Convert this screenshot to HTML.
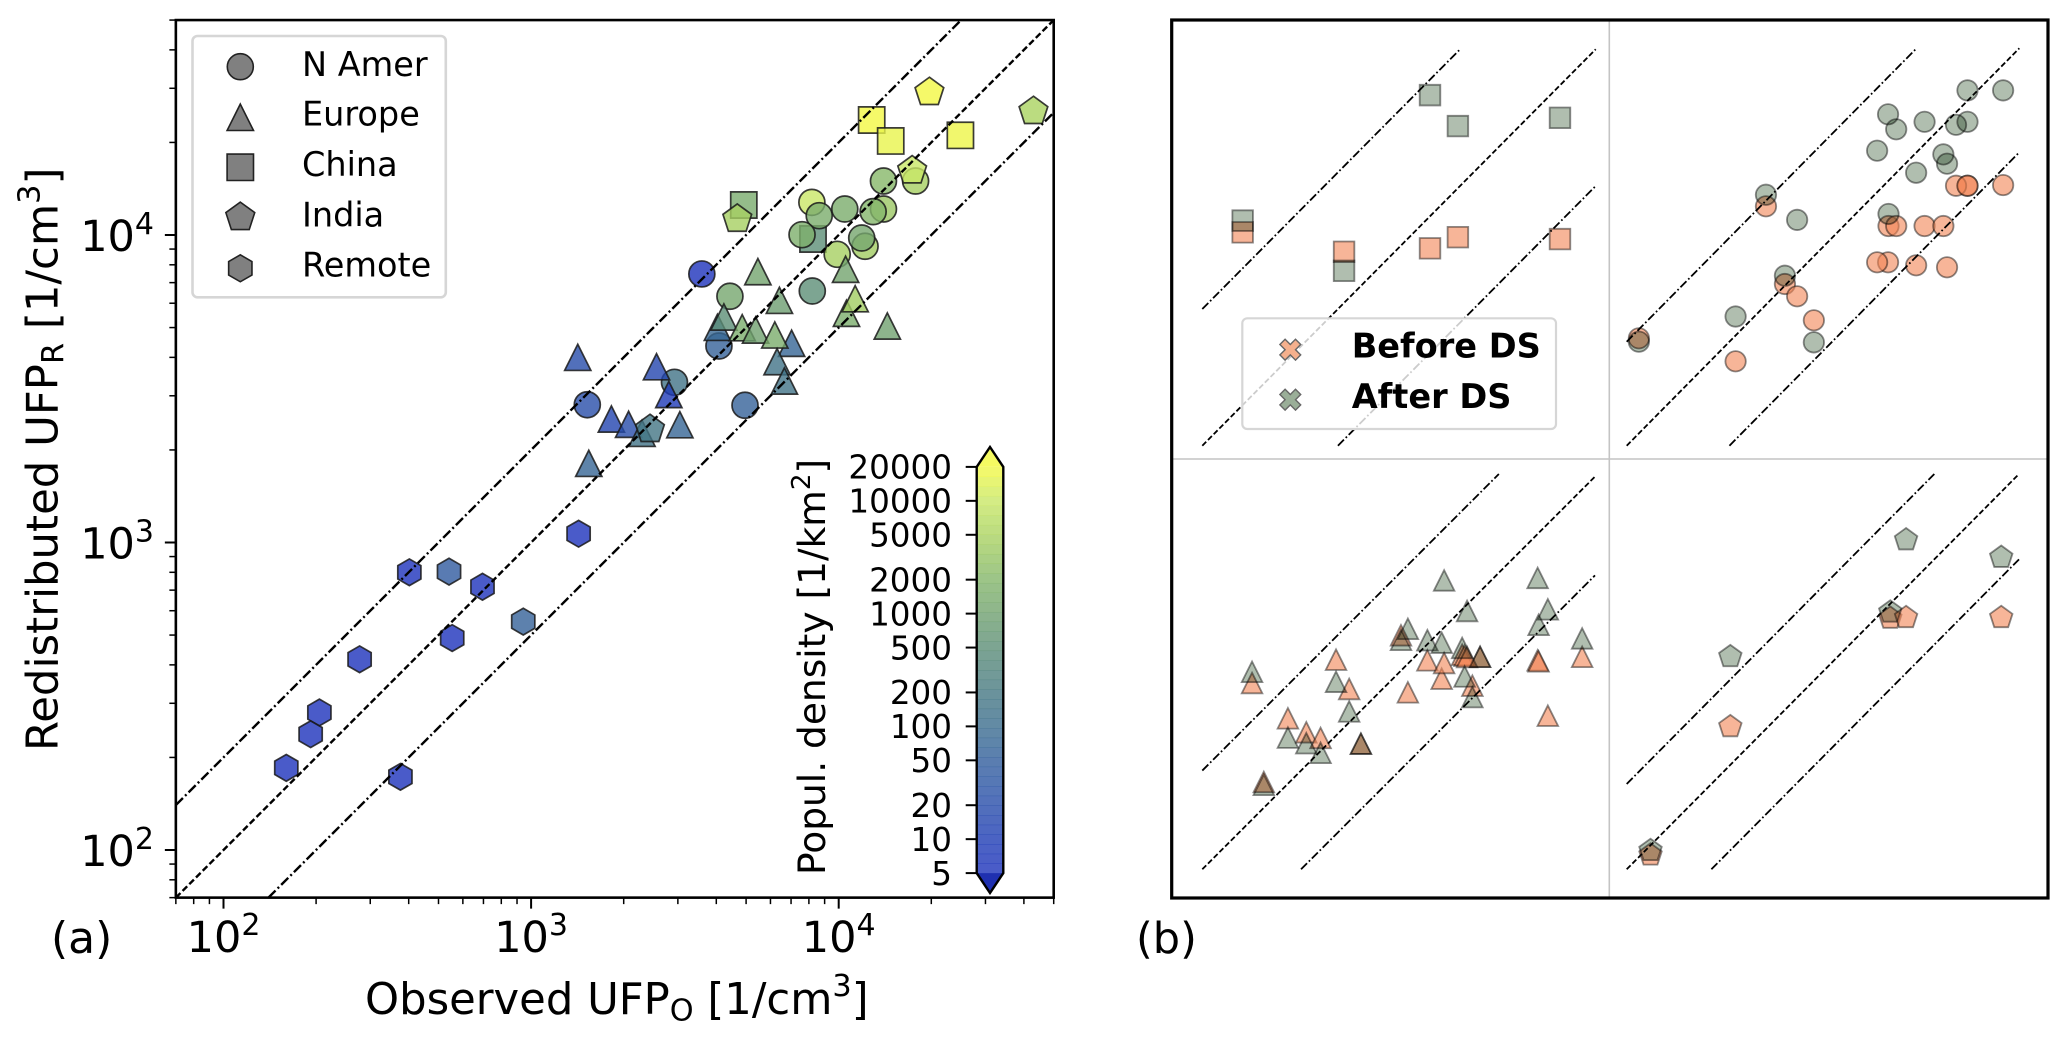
<!DOCTYPE html>
<html lang="en">
<head>
<meta charset="utf-8">
<title>Observed vs redistributed UFP</title>
<style>
html,body{margin:0;padding:0;background:#fff;}
svg{display:block;font-family:"DejaVu Sans","Liberation Sans",sans-serif;}
</style>
</head>
<body>
<svg id="chart" xmlns="http://www.w3.org/2000/svg" width="2067" height="1040" viewBox="0 0 2067 1040">
  <rect x="0" y="0" width="2067" height="1040" fill="#fff"/>
  <g id="panelA"></g>
  <g id="panelB"></g>

  <text x="51" y="953" font-size="44">(a)</text>
  <text x="1136" y="953" font-size="43">(b)</text>

  <text x="365" y="1014" font-size="43.3">Observed UFP<tspan dy="6.3" font-size="30.3">O</tspan><tspan dy="-6.3"> [1/cm</tspan><tspan dy="-18" font-size="30.3">3</tspan><tspan dy="18">]</tspan></text>
  <text transform="translate(57.4,751) rotate(-90)" font-size="43.4">Redistributed UFP<tspan dy="6.3" font-size="30.4">R</tspan><tspan dy="-6.3"> [1/cm</tspan><tspan dy="-18" font-size="30.4">3</tspan><tspan dy="18">]</tspan></text>
  <text transform="translate(825,875) rotate(-90)" font-size="37.5">Popul. density [1/km<tspan dy="-15" font-size="26.2">2</tspan><tspan dy="15">]</tspan></text>

  <g id="legendA">
    <rect x="192.5" y="36" width="253.3" height="261.3" rx="5" fill="#fff" stroke="#d6d6d6" stroke-width="2.6"/>
    <text x="302" y="76" font-size="33.5">N Amer</text>
    <text x="302" y="125.5" font-size="33.5">Europe</text>
    <text x="302" y="176" font-size="33.5">China</text>
    <text x="302" y="226.7" font-size="33.5">India</text>
    <text x="302" y="276.7" font-size="33.5">Remote</text>
  </g>
</svg>

<script>
// ---------- Panel (a) data: observed, redistributed, population density ----------
const amerObserved      = [1523, 2925, 3590, 4080, 4430, 4959, 8206, 8181, 8643, 10466, 7600, 9888, 12180, 11880, 13980, 12940, 13980, 17780];
const amerRedistributed = [2806, 3319, 7470, 4355, 6320, 2794, 6575, 12770, 11557, 12150, 10023, 8653, 9190, 9777, 12150, 11910, 14980, 14980];
const amerDensity       = [22, 150, 5, 60, 1200, 60, 500, 10000, 1500, 1500, 1600, 4500, 4000, 1200, 3500, 2000, 2200, 4500];

const europeObserved      = [1418, 1540, 1824, 2075, 2294, 2557, 2804, 3045, 4034, 4234, 4856, 5368, 5461, 7029, 6198, 6305, 6416, 6659, 10530, 10600, 11310, 14390];
const europeRedistributed = [4001, 1809, 2521, 2423, 2265, 3730, 3029, 2416, 5009, 5411, 4994, 4909, 7600, 4445, 4730, 3873, 6131, 3351, 7735, 5565, 6205, 5058];
const europeDensity       = [20, 70, 14, 20, 150, 15, 8, 70, 80, 500, 1500, 1000, 1100, 70, 1500, 150, 900, 150, 1100, 1500, 4000, 1000];

const chinaObserved      = [4914, 8250, 12800, 14760, 24870];
const chinaRedistributed = [12520, 9705, 23660, 20220, 21090];
const chinaDensity       = [1400, 500, 20000, 17000, 18000];

const indiaObserved      = [2435, 4680, 17330, 19720, 42970];
const indiaRedistributed = [2334, 11270, 16190, 29110, 25250];
const indiaDensity       = [170, 4500, 10000, 20000, 5000];

const remoteObserved      = [402, 541, 695, 554, 943, 1427, 277, 205, 192, 160, 376];
const remoteRedistributed = [800, 804, 718, 489, 553, 1068, 417, 280, 238, 185, 173];
const remoteDensity       = [5, 40, 5, 5, 60, 5, 5, 5, 5, 5, 5];

// ---------- Panel (b) data: redistributed before downscaling ("After" uses the arrays above) ----------
const amerBefore   = [2870, 2462, 6917, 4122, 3797, 3236, 6066, 4763, 6066, 6066, 4763, 4668, 4607, 6066, 7934, 7934, 7934, 7970];
const europeBefore = [3698, 1846, 2886, 2617, 2514, 4355, 3546, 2416, 5170, 3464, 4337, 3812, 4256, 4445, 4511, 4479, 4439, 3629, 4337, 4306, 2939, 4445];
const chinaBefore  = [11800, 10690, 10880, 11510, 11400];
const indiaBefore  = [2250, 6380, 15400, 15480, 15480];

// ---------- Axis tick values ----------
const majorExponents = [2, 3, 4];
const minorMultiples = [2, 3, 4, 5, 6, 7, 8, 9];
const minorDecades   = [10, 100, 1000, 10000];
const colorbarTicks  = [5, 10, 20, 50, 100, 200, 500, 1000, 2000, 5000, 10000, 20000];
const lineRatios     = [2, 1, 0.5];

// ---------- Colour map ----------
const cmapLevels = [5, 10, 20, 50, 100, 200, 500, 1000, 2000, 5000, 10000, 20000];
const cmapRed    = [29, 30, 39, 49, 59, 70, 92, 112, 131, 170, 201, 243];
const cmapGreen  = [50, 60, 76, 94, 109, 120, 142, 161, 181, 211, 231, 248];
const cmapBlue   = [187, 180, 170, 156, 142, 130, 119, 111, 106, 96, 102, 68];

const NS = 'http://www.w3.org/2000/svg';
const root = document.getElementById('chart');
const panelA = document.getElementById('panelA');
const panelB = document.getElementById('panelB');
const legendA = document.getElementById('legendA');

function make(parent, tag, attrs) {
  const e = document.createElementNS(NS, tag);
  for (const k in attrs) e.setAttribute(k, attrs[k]);
  parent.appendChild(e);
  return e;
}

function densityColor(d) {
  const v = Math.max(cmapLevels[0], Math.min(cmapLevels[cmapLevels.length - 1], d));
  let i = 0;
  while (i < cmapLevels.length - 2 && v > cmapLevels[i + 1]) i++;
  const t = (Math.log10(v) - Math.log10(cmapLevels[i])) / (Math.log10(cmapLevels[i + 1]) - Math.log10(cmapLevels[i]));
  const c = a => Math.round(a[i] + (a[i + 1] - a[i]) * t);
  return 'rgb(' + c(cmapRed) + ',' + c(cmapGreen) + ',' + c(cmapBlue) + ')';
}

function polyPoints(kind, cx, cy, r) {
  let pts = [];
  if (kind === 'triangle') pts = [[0, -r], [r, r], [-r, r]];
  if (kind === 'square') pts = [[-r, -r], [r, -r], [r, r], [-r, r]];
  if (kind === 'pentagon') {
    const R = r * 1.15;
    for (let i = 0; i < 5; i++) { const a = -Math.PI / 2 + i * 2 * Math.PI / 5; pts.push([R * Math.cos(a), R * Math.sin(a)]); }
  }
  if (kind === 'hexagon') {
    const R = r * 1.02;
    for (let i = 0; i < 6; i++) { const a = -Math.PI / 2 + i * Math.PI / 3; pts.push([R * Math.cos(a), R * Math.sin(a)]); }
  }
  if (kind === 'cross') {
    const u = r / 2;
    pts = [[-u, -2 * u], [0, -u], [u, -2 * u], [2 * u, -u], [u, 0], [2 * u, u], [u, 2 * u], [0, u], [-u, 2 * u], [-2 * u, u], [-u, 0], [-2 * u, -u]];
  }
  return pts.map(p => (cx + p[0]).toFixed(2) + ',' + (cy + p[1]).toFixed(2)).join(' ');
}

function marker(parent, kind, cx, cy, r, style) {
  if (kind === 'circle') return make(parent, 'circle', Object.assign({ cx: cx, cy: cy, r: r }, style));
  return make(parent, 'polygon', Object.assign({ points: polyPoints(kind, cx, cy, r) }, style));
}

// ---------- Panel (a) axis functions ----------
const xMinA = 70, xMaxA = 50000, yMinA = 70, yMaxA = 50000;
const xA = v => 223.5 + 307.6 * (Math.log10(v) - 2);
const yA = v => 850 - 307.5 * (Math.log10(v) - 2);

// scatter points (China, N Amer, Europe, India, Remote draw order)
const scatterStyle = d => ({ fill: densityColor(d), 'fill-opacity': 0.8, stroke: '#1a1a1a', 'stroke-opacity': 0.85, 'stroke-width': 1.7 });
const seriesA = [
  ['square', chinaObserved, chinaRedistributed, chinaDensity],
  ['circle', amerObserved, amerRedistributed, amerDensity],
  ['triangle', europeObserved, europeRedistributed, europeDensity],
  ['pentagon', indiaObserved, indiaRedistributed, indiaDensity],
  ['hexagon', remoteObserved, remoteRedistributed, remoteDensity]
];
seriesA.forEach(function (s) {
  s[1].forEach(function (ov, i) {
    const el = marker(panelA, s[0], xA(ov), yA(s[2][i]), s[0] === 'circle' ? 13 : 13.1, scatterStyle(s[3][i]));
    
    
  });
});

// reference lines y = r * x
function lineDash(ratio, scale) {
  return ratio === 1 ? (6.5 * scale) + ' ' + (3 * scale) : (10 * scale) + ' ' + (3 * scale) + ' ' + (2 * scale) + ' ' + (3 * scale);
}
lineRatios.forEach(function (ratio) {
  const x0 = Math.max(xMinA, yMinA / ratio);
  const x1 = Math.min(xMaxA, yMaxA / ratio);
  const el = make(panelA, 'line', { x1: xA(x0), y1: yA(x0 * ratio), x2: xA(x1), y2: yA(x1 * ratio), stroke: '#000', 'stroke-width': 2.4, 'stroke-dasharray': lineDash(ratio, 1) });
  
  
});

// frame
const frameA = make(panelA, 'rect', { x: xA(xMinA), y: yA(yMaxA), width: xA(xMaxA) - xA(xMinA), height: yA(yMinA) - yA(yMaxA), fill: 'none', stroke: '#000', 'stroke-width': 2.6 });



// minor ticks
minorDecades.forEach(function (dec) {
  minorMultiples.forEach(function (m) {
    const v = m * dec;
    if (v >= xMinA && v <= xMaxA) {
      const t = make(panelA, 'line', { x1: xA(v), x2: xA(v), y1: yA(yMinA), y2: yA(yMinA) + 6.5, stroke: '#000', 'stroke-width': 1.5 });
      
      
    }
    if (v >= yMinA && v <= yMaxA) {
      const t2 = make(panelA, 'line', { y1: yA(v), y2: yA(v), x1: xA(xMinA), x2: xA(xMinA) - 6.5, stroke: '#000', 'stroke-width': 1.5 });
      
      
    }
  });
});

// major ticks + labels
function powerLabel(parent, x, y, anchor, exp) {
  const t = make(parent, 'text', { x: x, y: y, 'text-anchor': anchor, 'font-size': 43 });
  const a = make(t, 'tspan', {});
  a.textContent = '10';
  const b = make(t, 'tspan', { dy: -17, 'font-size': 30 });
  b.textContent = String(exp);
  return t;
}
majorExponents.forEach(function (e) {
  const v = Math.pow(10, e);
  const tx = make(panelA, 'line', { x1: xA(v), x2: xA(v), y1: yA(yMinA), y2: yA(yMinA) + 11, stroke: '#000', 'stroke-width': 2 });
  
  
  const ty = make(panelA, 'line', { y1: yA(v), y2: yA(v), x1: xA(xMinA), x2: xA(xMinA) - 11, stroke: '#000', 'stroke-width': 2 });
  
  
  const lx = powerLabel(panelA, xA(v), 952, 'middle', e);
  
  
  const ly = powerLabel(panelA, 154, yA(v) + 16, 'end', e);
  
  
});

// region legend markers
const legendKinds = ['circle', 'triangle', 'square', 'pentagon', 'hexagon'];
const legendRows = [66.7, 117.3, 167.3, 217.3, 268.3];
legendKinds.forEach(function (k, i) {
  const el = marker(legendA, k, 240.3, legendRows[i], k === 'circle' ? 13 : 13.2, { fill: '#808080', stroke: '#222', 'stroke-width': 1.6 });
  
  
});

// ---------- Colorbar ----------
const cbLeft = 976.7, cbRight = 1003.3, cbTop = 466.9, cbBottom = 873.1;
const yCb = d => cbBottom - (cbBottom - cbTop) * (Math.log10(d) - Math.log10(5)) / (Math.log10(20000) - Math.log10(5));
const cbGroup = make(root, 'g', {});


const cbSteps = 42;
for (let i = 0; i < cbSteps; i++) {
  const d0 = 5 * Math.pow(4000, i / cbSteps);
  const d1 = 5 * Math.pow(4000, (i + 1) / cbSteps);
  const band = make(cbGroup, 'rect', { x: cbLeft, width: cbRight - cbLeft, y: yCb(d1), height: yCb(d0) - yCb(d1) + 0.4, fill: densityColor(Math.sqrt(d0 * d1)), 'fill-opacity': 0.8 });
  
  
}
const tipTop = make(cbGroup, 'polygon', { points: cbLeft + ',' + cbTop + ' 990,447 ' + cbRight + ',' + cbTop, fill: '#f5fa62' });


const tipBottom = make(cbGroup, 'polygon', { points: cbLeft + ',' + cbBottom + ' 990,893 ' + cbRight + ',' + cbBottom, fill: '#1f30b0' });


const cbOutline = make(cbGroup, 'polygon', { points: cbLeft + ',' + cbTop + ' 990,447 ' + cbRight + ',' + cbTop + ' ' + cbRight + ',' + cbBottom + ' 990,893 ' + cbLeft + ',' + cbBottom, fill: 'none', stroke: '#000', 'stroke-width': 2.4 });


colorbarTicks.forEach(function (d) {
  const tk = make(cbGroup, 'line', { x1: cbLeft - 11, x2: cbLeft, y1: yCb(d), y2: yCb(d), stroke: '#000', 'stroke-width': 2 });
  
  
  const lb = make(cbGroup, 'text', { x: 952, y: yCb(d) + 11.8, 'text-anchor': 'end', 'font-size': 32.6 });
  lb.textContent = String(d);
  
  
});

// ---------- Panel (b) ----------
const beforeFill = 'rgb(242,132,83)';
const afterFill = 'rgb(123,147,122)';
const quadrants = [
  { kind: 'square',   x0: 1202.3, y0: 445.7, w: 393.4, h: 396.4, xMin: 3998, yMin: 3998, xMax: 29850, yMax: 29850, obs: chinaObserved,  before: chinaBefore,  after: chinaRedistributed },
  { kind: 'circle',   x0: 1626.7, y0: 445.7, w: 392.6, h: 397.4, xMin: 1403, yMin: 1403, xMax: 19830, yMax: 19830, obs: amerObserved,   before: amerBefore,   after: amerRedistributed },
  { kind: 'triangle', x0: 1202.3, y0: 869.3, w: 392.7, h: 395.3, xMin: 1000, yMin: 1000, xMax: 15750, yMax: 16040, obs: europeObserved, before: europeBefore, after: europeRedistributed },
  { kind: 'pentagon', x0: 1626.7, y0: 869.3, w: 392.3, h: 395.3, xMin: 2004, yMin: 2004, xMax: 49700, yMax: 49700, obs: indiaObserved,  before: indiaBefore,  after: indiaRedistributed }
];

const gridV = make(panelB, 'line', { x1: 1609.3, x2: 1609.3, y1: 20, y2: 898, stroke: '#c4c4c4', 'stroke-width': 1.6 });


const gridH = make(panelB, 'line', { x1: 1172, x2: 2048, y1: 459, y2: 459, stroke: '#c4c4c4', 'stroke-width': 1.6 });



quadrants.forEach(function (q) {
  const qx = v => q.x0 + q.w * Math.log10(v / q.xMin) / Math.log10(q.xMax / q.xMin);
  const qy = v => q.y0 - q.h * Math.log10(v / q.yMin) / Math.log10(q.yMax / q.yMin);
  const r = q.kind === 'circle' ? 10.2 : 10.3;
  const common = { 'fill-opacity': 0.6, stroke: '#000', 'stroke-opacity': 0.45, 'stroke-width': 1.8 };
  q.obs.forEach(function (ov, i) {
    const el = marker(panelB, q.kind, qx(ov), qy(q.before[i]), r, Object.assign({ fill: beforeFill }, common));
    
    
  });
  q.obs.forEach(function (ov, i) {
    const el = marker(panelB, q.kind, qx(ov), qy(q.after[i]), r, Object.assign({ fill: afterFill, style: 'mix-blend-mode:multiply' }, common));
    
    
  });
  lineRatios.forEach(function (ratio) {
    const a = Math.max(q.xMin, q.yMin / ratio);
    const b = Math.min(q.xMax, q.yMax / ratio);
    const el = make(panelB, 'line', { x1: qx(a), y1: qy(a * ratio), x2: qx(b), y2: qy(b * ratio), stroke: '#000', 'stroke-width': 1.8, 'stroke-dasharray': lineDash(ratio, 0.85) });
    
    
  });
});

const frameB = make(panelB, 'rect', { x: 1171.7, y: 20, width: 876.3, height: 878, fill: 'none', stroke: '#000', 'stroke-width': 3.2 });



// before / after legend
const legB = make(panelB, 'g', {});


const legBox = make(legB, 'rect', { x: 1242.3, y: 318.3, width: 313.7, height: 110.7, rx: 5, fill: '#fff', 'fill-opacity': 0.8, stroke: '#d6d6d6', 'stroke-width': 2.2 });


const xBefore = marker(legB, 'cross', 1290.3, 349.7, 10.4, { fill: '#f5b08d', stroke: '#666', 'stroke-width': 1.4 });


const xAfter = marker(legB, 'cross', 1290.3, 399.7, 10.4, { fill: '#9aae98', stroke: '#666', 'stroke-width': 1.4 });


const tBefore = make(legB, 'text', { x: 1351.7, y: 357.7, 'font-size': 33.6, 'font-weight': 'bold' });
tBefore.textContent = 'Before DS';


const tAfter = make(legB, 'text', { x: 1351.7, y: 408, 'font-size': 33.6, 'font-weight': 'bold' });
tAfter.textContent = 'After DS';


</script>
</body>
</html>
